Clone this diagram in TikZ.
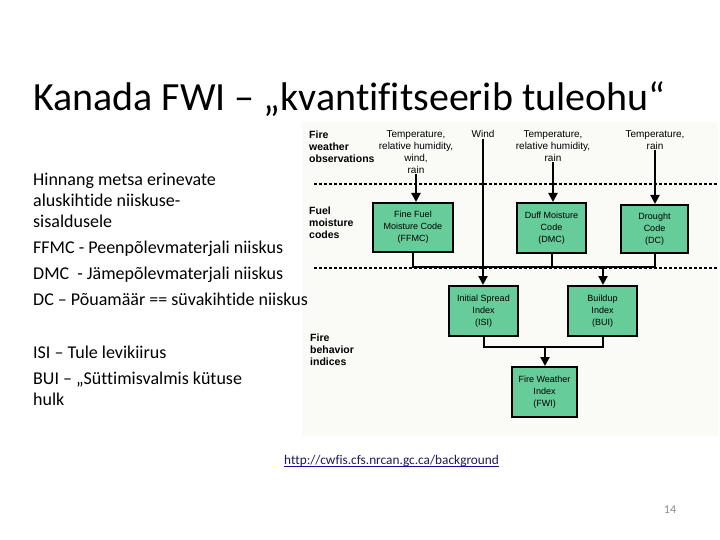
\documentclass[tikz,border=0pt]{standalone}
\usepackage{fontspec}
\setmainfont[Ligatures=NoCommon]{Carlito}
\newfontfamily\arialf{Liberation Sans}
\usetikzlibrary{arrows.meta}
\definecolor{boxgreen}{HTML}{66CC99}
\definecolor{imgbg}{HTML}{FAFAF6}
\definecolor{linkcol}{HTML}{1A1A5A}
\definecolor{linkline}{HTML}{1010A0}
\definecolor{pagegray}{HTML}{8C8C8C}
\begin{document}
\begin{tikzpicture}[x=1pt,y=-1pt,
  box/.style={draw=black, line width=2pt, fill=boxgreen, align=center,
    font=\arialf\fontsize{9}{12}\selectfont, inner sep=0pt},
  wlabel/.style={align=center, font=\arialf\fontsize{10}{12}\selectfont, inner sep=1pt},
  blabel/.style={align=left, font=\arialf\bfseries\fontsize{10.5}{11.6}\selectfont, inner sep=0pt, anchor=north west},
  lefttext/.style={anchor=base west, inner sep=0pt, font=\fontsize{18}{21}\selectfont},
  arr/.style={line width=2pt, -{Triangle[width=9pt,length=9pt]}},
  conn/.style={line width=2pt},
  sep/.style={line width=1.6pt, dash pattern=on 3pt off 2pt}
]
\useasboundingbox (0,0) rectangle (720,540);
\fill[white] (0,0) rectangle (720,540);

% diagram image background
\fill[imgbg] (302,122) rectangle (718,436);

% title
\node[anchor=base west, inner sep=0pt, font=\fontsize{40}{48}\selectfont] (title) at (33,111) {Kanada FWI – „kvantifitseerib tuleohu“};

% left text
\node[lefttext] (l1) at (33,186) {Hinnang metsa erinevate};
\node[lefttext] (l2) at (33,207) {aluskihtide niiskuse-};
\node[lefttext] (l3) at (33,228) {sisaldusele};
\node[lefttext] (l4) at (33,254) {FFMC - Peenpõlevmaterjali niiskus};
\node[lefttext] (l5) at (33,279) {DMC\ \ - Jämepõlevmaterjali niiskus};
\node[lefttext] (l6) at (33,305) {DC – Põuamäär == süvakihtide niiskus};
\node[lefttext] (l7) at (33,358) {ISI – Tule levikiirus};
\node[lefttext] (l8) at (33,384) {BUI – „Süttimisvalmis kütuse};
\node[lefttext] (l9) at (33,405) {hulk};

% side labels
\node[blabel] (obs) at (309,131) {Fire\\weather\\observations};
\node[blabel] (fuel) at (309,207) {Fuel\\moisture\\codes};
\node[blabel] (beh) at (310,334) {Fire\\behavior\\indices};

% weather inputs
\node[wlabel, anchor=north] (t1) at (416,129) {Temperature,\\relative humidity,\\wind,\\rain};
\node[wlabel, anchor=north] (wind) at (483,129) {Wind};
\node[wlabel, anchor=north] (t3) at (553,129) {Temperature,\\relative humidity,\\rain};
\node[wlabel, anchor=north] (t4) at (655,129) {Temperature,\\rain};

% dashed separators
\draw[sep] (314,184) -- (718,184);
\draw[sep] (314,268) -- (718,268);

% boxes
\node[box, minimum width=80pt, minimum height=49pt] (ffmc) at (413,227.5) {Fine Fuel\\Moisture Code\\(FFMC)};
\node[box, minimum width=69pt, minimum height=50pt] (dmc) at (551.5,228) {Duff Moisture\\Code\\(DMC)};
\node[box, minimum width=67pt, minimum height=48pt] (dc) at (654.5,229) {Drought\\Code\\(DC)};
\node[box, minimum width=69pt, minimum height=50pt] (isi) at (483.5,311) {Initial Spread\\Index\\(ISI)};
\node[box, minimum width=69pt, minimum height=50pt] (bui) at (602.5,311) {Buildup\\Index\\(BUI)};
\node[box, minimum width=65pt, minimum height=50pt] (fwi) at (544.5,392) {Fire Weather\\Index\\(FWI)};

% input arrows
\draw[arr] (t1.south) -- (t1.south |- ffmc.north);
\draw[arr] (wind.south) -- (wind.south |- isi.north);
\draw[arr] (t3.south) -- (t3.south |- dmc.north);
\draw[arr] (t4.south) -- (t4.south |- dc.north);

% moisture code bus
\coordinate (j1) at (603,267);
\draw[conn] (ffmc.south) |- (j1);
\draw[conn] (dc.south) |- (j1);
\draw[conn] (dmc.south) -- (dmc.south |- j1);
\draw[arr] (j1) -- (j1 |- bui.north);

% index bus
\coordinate (j2) at (545,347);
\draw[conn] (isi.south) |- (j2);
\draw[conn] (bui.south) |- (j2);
\draw[arr] (j2) -- (j2 |- fwi.north);

% url
\node[anchor=base west, inner sep=0pt, text=linkcol, font=\fontsize{13.3}{16}\selectfont] (url) at (284,464) {http://cwfis.cfs.nrcan.gc.ca/background};
\draw[linkline, line width=1pt] ([yshift=-2pt]url.base west) -- ([yshift=-2pt]url.base east);

% page number
\node[anchor=base, inner sep=0pt, text=pagegray, font=\fontsize{12}{14}\selectfont] (page) at (670,513) {14};
\end{tikzpicture}
\end{document}
